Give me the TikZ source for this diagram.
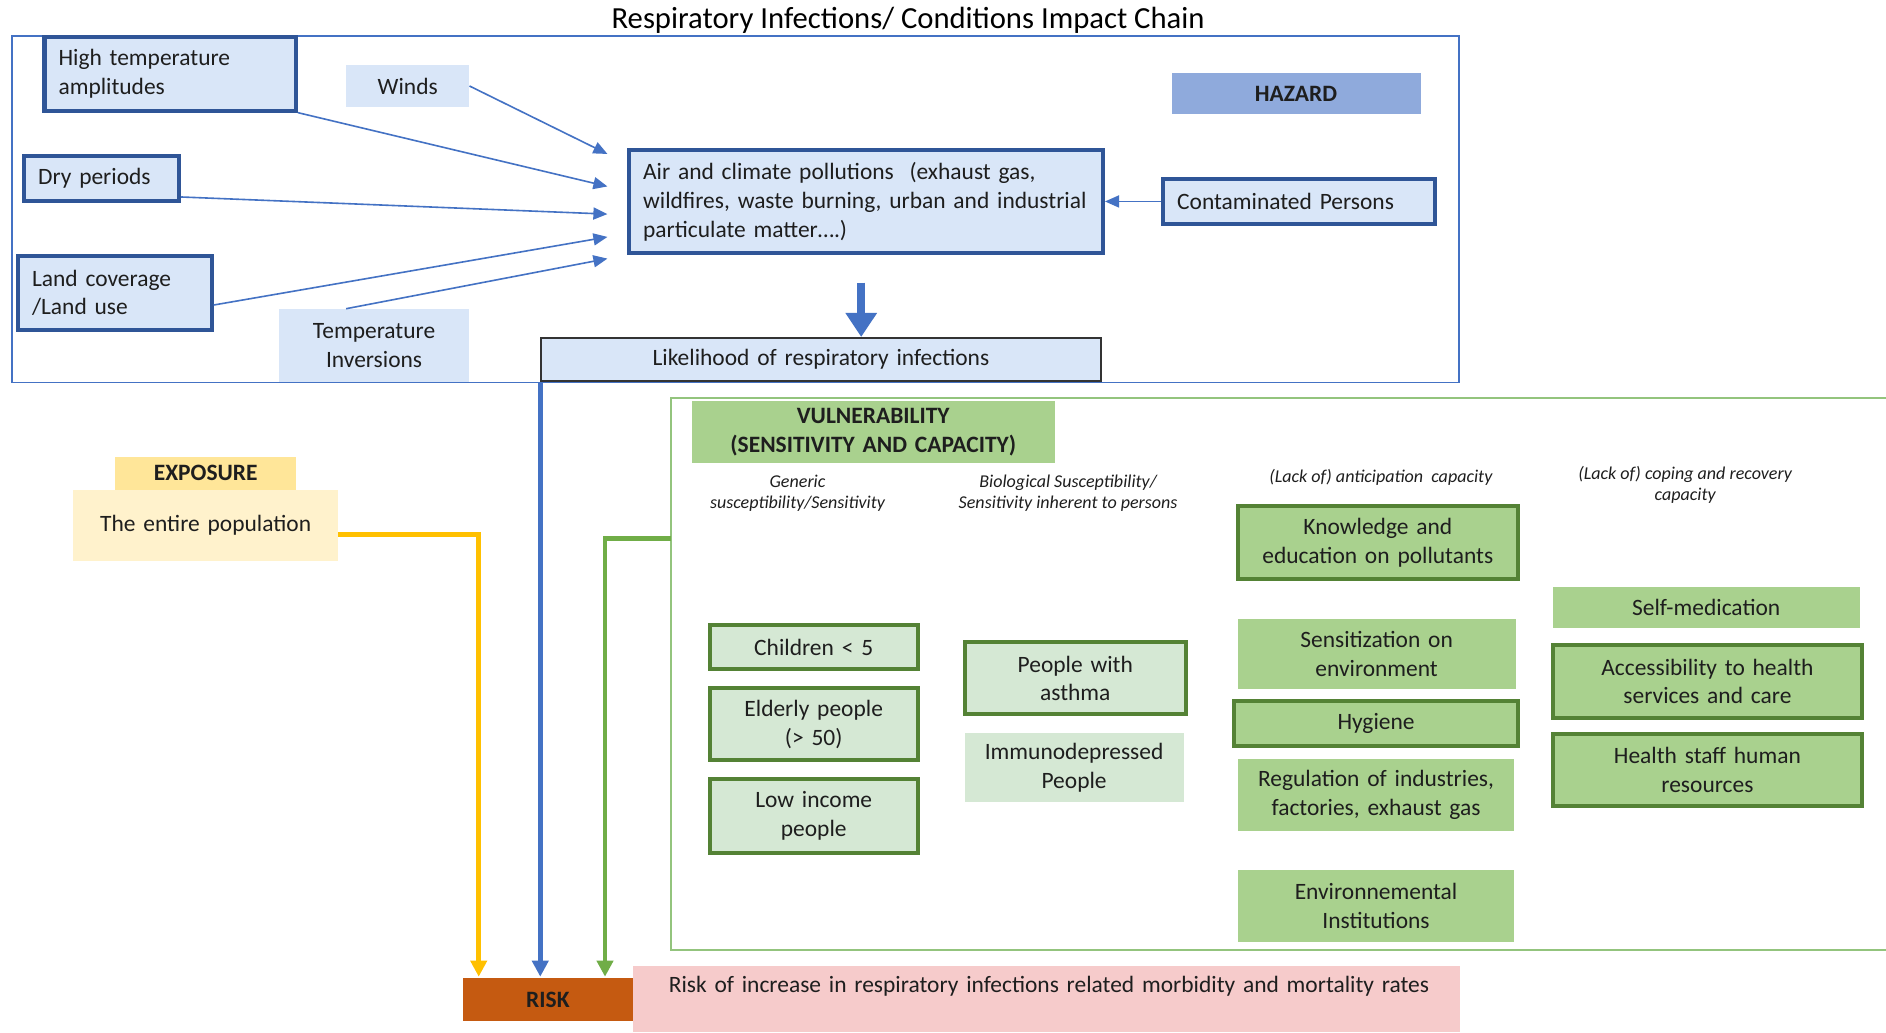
\documentclass[tikz,border=0pt]{standalone}
\usepackage{fontspec}
\setmainfont{Carlito}
\usetikzlibrary{arrows.meta}
\definecolor{hdark}{HTML}{2F5597}
\definecolor{hlight}{HTML}{D9E6F8}
\definecolor{hlabel}{HTML}{8FAADC}
\definecolor{hblue}{HTML}{4472C4}
\definecolor{gdark}{HTML}{548235}
\definecolor{glight}{HTML}{D5E8D4}
\definecolor{gmid}{HTML}{A9D18E}
\definecolor{gframe}{HTML}{93C47D}
\definecolor{garrow}{HTML}{70AD47}
\definecolor{yarrow}{HTML}{FFC000}
\definecolor{expo}{HTML}{FFE699}
\definecolor{expolight}{HTML}{FFF2CC}
\definecolor{riskc}{HTML}{C55A11}
\definecolor{riskl}{HTML}{F6CBCB}
\definecolor{likeb}{HTML}{333333}
\definecolor{txt}{HTML}{1E1E1E}
\newcommand\bx[7]{%
  \pgfmathsetlengthmacro\bxw{(#4-#2)*0.6pt-14pt}%
  \pgfmathsetlengthmacro\bxh{(#5-#3)*0.6pt}%
  \node[#6, text width=\bxw, minimum height=\bxh] (#1) at ({(#2+#4)/2},{(#3+#5)/2}) {#7};}
\tikzset{
  every node/.style={inner xsep=7pt, inner ysep=0pt, text=txt, font=\fontsize{11.7}{14.4}\selectfont},
  hfr/.style={draw=hblue, line width=0.8pt},
  vfr/.style={draw=gframe, line width=0.9pt},
  hbox/.style={draw=hdark, line width=2pt, fill=hlight, align=left},
  hfill/.style={fill=hlight, align=center},
  hlab/.style={fill=hlabel, align=center, font=\fontsize{11.7}{14.4}\selectfont\bfseries},
  likebox/.style={draw=likeb, line width=1pt, fill=hlight, align=center},
  gbox1/.style={draw=gdark, line width=2pt, fill=glight, align=center},
  gfill1/.style={fill=glight, align=center},
  gbox2/.style={draw=gdark, line width=2pt, fill=gmid, align=center},
  gfill2/.style={fill=gmid, align=center},
  glab/.style={fill=gmid, align=center, font=\fontsize{11.7}{14.4}\selectfont\bfseries},
  elab/.style={fill=expo, align=center, font=\fontsize{11.7}{14.4}\selectfont\bfseries},
  efill/.style={fill=expolight, align=center},
  rlab/.style={fill=riskc, align=center, font=\fontsize{11.7}{14.4}\selectfont\bfseries},
  rfill/.style={fill=riskl, align=left},
  hdr/.style={align=center, inner sep=0pt, font=\fontsize{9}{10.8}\selectfont\itshape},
  thinarr/.style={draw=hblue, line width=0.8pt, -{Triangle[length=7pt,width=6pt]}},
  bigarr/.style={draw=hblue, line width=4.2pt, -{Triangle[length=12pt,width=15pt]}},
  barr/.style={draw=hblue, line width=2.4pt, -{Triangle[length=8pt,width=8pt]}},
  yarr/.style={draw=yarrow, line width=2.4pt, -{Triangle[length=8pt,width=8pt]}},
  garr/.style={draw=garrow, line width=2.4pt, -{Triangle[length=8pt,width=8pt]}}
}
\begin{document}
\begin{tikzpicture}[x=0.6pt,y=-0.6pt]
\useasboundingbox[fill=white] (0,0) rectangle (1568,858);
\node[font=\fontsize{15.3}{18}\selectfont, inner sep=0pt, text=black] (title) at (755,17) {Respiratory Infections/ Conditions Impact Chain};
% frames
\bx{hframe}{10}{30}{1213}{318}{hfr}{}
\bx{vframe}{558}{331}{1600}{790}{vfr}{}
% hazard part
\bx{ht}{37}{31}{246}{92}{hbox}{High temperature\\amplitudes}
\bx{winds}{288}{54}{390}{89}{hfill}{Winds}
\bx{dry}{20}{130}{149}{167}{hbox}{Dry periods}
\bx{land}{15}{213}{176}{274}{hbox}{Land coverage\\/Land use}
\bx{tinv}{232}{257}{390}{318}{hfill}{Temperature\\Inversions}
\bx{air}{523}{125}{917}{210}{hbox}{\mbox{Air and climate pollutions\ \ (exhaust gas,}\\\mbox{wildfires, waste burning, urban and industrial}\\\mbox{particulate matter….)}}
\bx{cont}{967}{149}{1193}{186}{hbox}{Contaminated Persons}
\bx{hazard}{974}{61}{1181}{95}{hlab}{HAZARD}
\bx{like}{450}{281}{915}{317}{likebox}{Likelihood of respiratory infections}
% exposure
\bx{expo}{96}{380}{246}{407}{elab}{EXPOSURE}
\bx{pop}{61}{407}{281}{466}{efill}{The entire population}
% vulnerability
\bx{vul}{575}{333}{877}{385}{glab}{VULNERABILITY\\(SENSITIVITY AND CAPACITY)}
\node[hdr] (h1) at (663,410) {Generic\\susceptibility/Sensitivity};
\node[hdr] (h2) at (888,410) {Biological Susceptibility/\\Sensitivity inherent to persons};
\node[hdr] (h3) at (1148,397) {(Lack of) anticipation\ \ capacity};
\node[hdr] (h4) at (1401,403) {(Lack of) coping and recovery\\capacity};
\bx{child}{590}{520}{763}{556}{gbox1}{Children < 5}
\bx{elder}{590}{572}{763}{632}{gbox1}{Elderly people\\(> 50)}
\bx{low}{590}{648}{763}{709}{gbox1}{Low income\\people}
\bx{asthma}{802}{534}{986}{594}{gbox1}{People with\\asthma}
\bx{immuno}{802}{609}{984}{667}{gfill1}{Immunodepressed\\People}
\bx{know}{1029}{421}{1262}{481}{gbox2}{Knowledge and\\education on pollutants}
\bx{sens}{1029}{515}{1260}{573}{gfill2}{Sensitization on\\environment}
\bx{hyg}{1026}{583}{1262}{620}{gbox2}{Hygiene}
\bx{reg}{1029}{631}{1259}{691}{gfill2}{Regulation of industries,\\factories, exhaust gas}
\bx{envi}{1029}{723}{1259}{783}{gfill2}{Environnemental\\Institutions}
\bx{selfm}{1291}{488}{1546}{522}{gfill2}{Self-medication}
\bx{access}{1291}{536}{1548}{597}{gbox2}{Accessibility to health\\services and care}
\bx{staff}{1291}{610}{1548}{670}{gbox2}{Health staff human\\resources}
% risk
\bx{risk}{385}{813}{526}{849}{rlab}{RISK}
\bx{riskd}{526}{803}{1214}{858}{rfill}{\mbox{\hspace*{11pt}Risk of increase in respiratory infections related morbidity and mortality rates}\\\mbox{}}
% connectors
\coordinate (ew) at (505,128);
\coordinate (eh) at (505,155);
\coordinate (ed) at (505,178);
\coordinate (el) at (505,197);
\coordinate (et) at (505,215);
\draw[thinarr] (winds.east) -- (ew);
\draw[thinarr] (ht.south east) -- (eh);
\draw[thinarr] (dry.-13) -- (ed);
\draw[thinarr] (land.-7) -- (el);
\draw[thinarr] (tinv.127) -- (et);
\draw[thinarr] (cont.west) -- (air.east);
\coordinate (bigs) at (716,235);
\draw[bigarr] (bigs) -- (bigs |- like.north);
\coordinate (yend) at (398,812);
\coordinate (gstart) at (558,448);
\coordinate (gend) at (503,812);
\draw[yarr] (pop.-4) -| (yend);
\draw[barr] (like.south west) -- (like.south west |- yend);
\draw[garr] (gstart) -| (gend);
\end{tikzpicture}
\end{document}
